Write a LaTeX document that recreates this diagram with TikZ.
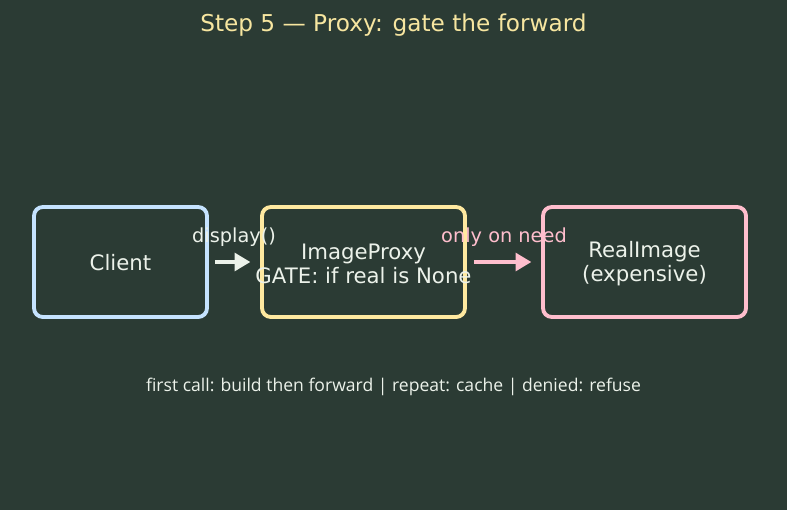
\documentclass[tikz,border=0pt]{standalone}
\usepackage{fontspec}
\setmainfont{DejaVu Sans}
\newfontfamily\notefont{Open Sans}
\usetikzlibrary{arrows.meta,positioning}
\definecolor{bgdark}{RGB}{43,59,52}
\definecolor{titlecol}{RGB}{247,230,160}
\definecolor{txtcol}{RGB}{236,242,234}
\definecolor{clientcol}{RGB}{197,227,255}
\definecolor{proxycol}{RGB}{255,233,160}
\definecolor{realcol}{RGB}{255,190,205}

\begin{document}
\begin{tikzpicture}[x=0.02cm,y=-0.02cm,every node/.style={font=\fontsize{12.1}{13.5}\selectfont,text=txtcol},
  box/.style={draw,rounded corners=5pt,line width=2.2pt,minimum width=3.46cm,minimum height=2.2cm,inner sep=0pt},
  flow/.style={line width=2.4pt,-{Triangle[length=9pt,width=10pt]}}]
\useasboundingbox[fill=bgdark] (0,0) rectangle (787,510);
\node[font=\fontsize{13.2}{15}\selectfont,text=titlecol] (title) at (393.5,25.5) {Step 5 — Proxy: gate the forward};
% the three boxes
\node[box,draw=clientcol] (client) at (120.5,262) {};
\node[box,draw=proxycol,minimum width=4.06cm] (proxy) at (363.5,262) {};
\node[box,draw=realcol,minimum width=4.06cm] (real) at (644.5,262) {};
\node at ([yshift=-0.5pt]client.center) {Client};
\node[align=center] at ([yshift=-1pt]proxy.center) {ImageProxy\\GATE: if real is None};
\node[align=center] at ([yshift=-1pt]real.center) {RealImage\\(expensive)};
% forwarding arrows
\draw[flow,draw=txtcol,fill=txtcol,shorten <=3.5pt,shorten >=5.5pt] (client.east) -- (proxy.west);
\draw[flow,draw=realcol,fill=realcol,shorten <=4pt,shorten >=5.5pt] (proxy.east) -- (real.west);
\node[font=\fontsize{11}{12}\selectfont] (lblcall) at (234,237.5) {display()};
\node[font=\fontsize{11}{12}\selectfont,text=realcol] (lblneed) at (504,237.5) {only on need};
\node[font=\notefont\fontsize{10}{12}\selectfont] (note) at (393.5,386.5) {first call: build then forward | repeat: cache | denied: refuse};
\end{tikzpicture}
\end{document}
